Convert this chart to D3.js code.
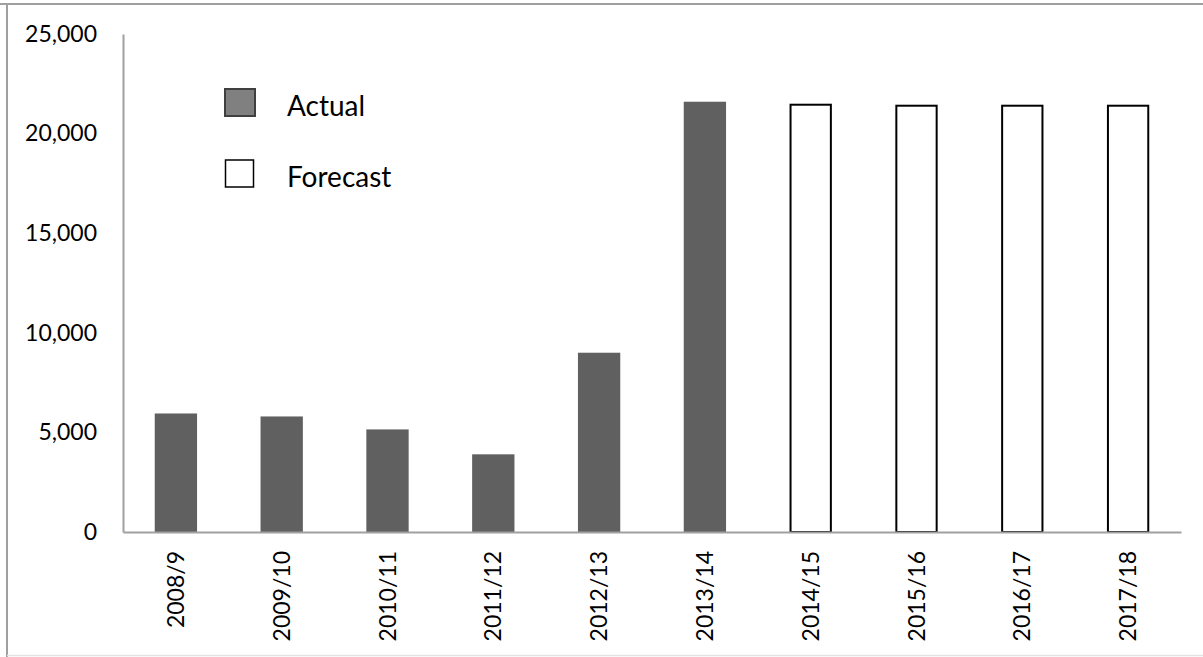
<!DOCTYPE html>
<html>
<head>
<meta charset="utf-8">
<script src="https://cdn.jsdelivr.net/npm/d3@7"></script>
<style>
  body { margin: 0; background: #fff; }
  text { font-family: Lato, "Open Sans", sans-serif; }
</style>
</head>
<body>
<div id="barChart"></div>
<script>
const categories = ["2008/9", "2009/10", "2010/11", "2011/12", "2012/13",
                    "2013/14", "2014/15", "2015/16", "2016/17", "2017/18"];
const actualValues = [5950, 5800, 5150, 3900, 9000, 21600, null, null, null, null];
const forecastValues = [null, null, null, null, null, null, 21450, 21400, 21400, 21400];
const yTicks = [0, 5000, 10000, 15000, 20000, 25000];
const legendLabels = ["Actual", "Forecast"];

const totalW = 1203, totalH = 657;
const margin = {top: 34, right: 22, bottom: 125, left: 123},
    width = totalW - margin.left - margin.right,
    height = totalH - margin.top - margin.bottom;

const root = d3.select("#barChart")
  .append("svg")
    .attr("width", totalW)
    .attr("height", totalH);

// outer frame
root.append("line")
  .attr("x1", 0).attr("x2", totalW).attr("y1", 4).attr("y2", 4)
  .attr("stroke", "#a0a0a0").attr("stroke-width", 2);
root.append("line")
  .attr("x1", 7).attr("x2", 7).attr("y1", 4).attr("y2", totalH)
  .attr("stroke", "#a0a0a0").attr("stroke-width", 2);
root.append("line")
  .attr("x1", 7).attr("x2", totalW).attr("y1", 655.5).attr("y2", 655.5)
  .attr("stroke", "#e3e3e3").attr("stroke-width", 1.5);

const svg = root.append("g")
    .attr("transform", "translate(" + margin.left + "," + margin.top + ")");

const data = categories.map((c, i) => ({cat: c, actual: actualValues[i], forecast: forecastValues[i]}));

const x = d3.scaleBand()
  .domain(categories)
  .range([0, width])
  .paddingInner(0.6)
  .paddingOuter(0.3);

const y = d3.scaleLinear()
  .domain([0, 25000])
  .range([height, 0]);

// y axis
const yAxis = svg.append("g")
  .call(d3.axisLeft(y).tickValues(yTicks).tickSize(0).tickPadding(26).tickFormat(d3.format(",")));
yAxis.select(".domain").attr("stroke", "#a0a0a0").attr("stroke-width", 2);
yAxis.selectAll("text")
  .style("font-size", "23px")
  .style("fill", "#000");

// bars
svg.selectAll(".actual")
  .data(data.filter(d => d.actual != null))
  .enter()
  .append("rect")
    .attr("class", "actual")
    .attr("x", d => x(d.cat))
    .attr("y", d => y(d.actual))
    .attr("width", x.bandwidth())
    .attr("height", d => height - y(d.actual))
    .attr("fill", "#606060");

svg.selectAll(".forecast")
  .data(data.filter(d => d.forecast != null))
  .enter()
  .append("rect")
    .attr("class", "forecast")
    .attr("x", d => x(d.cat) + 1)
    .attr("y", d => y(d.forecast))
    .attr("width", x.bandwidth() - 2)
    .attr("height", d => height - y(d.forecast))
    .attr("fill", "#fff")
    .attr("stroke", "#000")
    .attr("stroke-width", 2);

// x axis
const xAxis = svg.append("g")
  .attr("transform", "translate(0," + height + ")")
  .call(d3.axisBottom(x).tickSize(0).tickPadding(0));
xAxis.select(".domain").attr("stroke", "#a0a0a0").attr("stroke-width", 2);
xAxis.selectAll("text")
  .attr("transform", "rotate(-90)")
  .attr("text-anchor", "end")
  .attr("x", -19)
  .attr("y", 0)
  .attr("dy", "0.35em")
  .style("font-size", "23px")
  .style("fill", "#000");

// legend
const legend = root.append("g").attr("transform", "translate(224,88)");
const legendItems = legend.selectAll("g")
  .data(legendLabels)
  .enter()
  .append("g")
    .attr("transform", (d, i) => "translate(0," + i * 71 + ")");

legendItems.append("rect")
  .attr("x", (d, i) => i === 0 ? 1 : 1.5)
  .attr("y", 1)
  .attr("width", (d, i) => i === 0 ? 30 : 28)
  .attr("height", 27)
  .attr("fill", (d, i) => i === 0 ? "#808080" : "#fff")
  .attr("stroke", (d, i) => i === 0 ? "#404040" : "#000")
  .attr("stroke-width", (d, i) => i === 0 ? 2 : 1.5);

legendItems.append("text")
  .attr("x", 63)
  .attr("y", 28)
  .style("font-size", "28px")
  .style("fill", "#000")
  .text(d => d);
</script>
</body>
</html>
